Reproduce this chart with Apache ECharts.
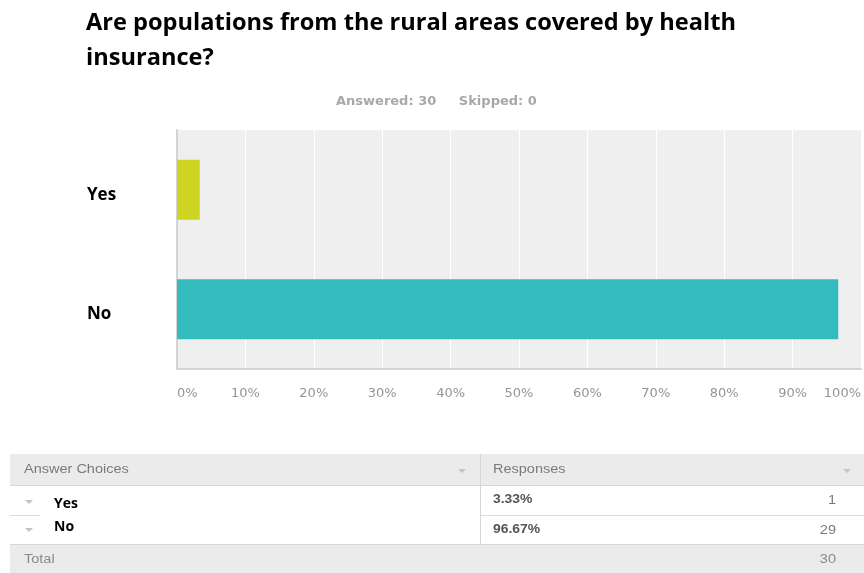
<!DOCTYPE html>
<html>
<head>
<meta charset="utf-8">
<script src="https://cdn.jsdelivr.net/npm/echarts@6/dist/echarts.min.js"></script>
<style>
  html, body { margin: 0; padding: 0; background: #fff; }
  #chart { width: 864px; height: 573px; }
</style>
</head>
<body>
<div id="chart"></div>
<script>
// Survey question and answer data
const questionTitle = 'Are populations from the rural areas covered by health\ninsurance?';
const answered = 30;
const skipped = 0;
const categories = ['Yes', 'No'];
const percents = [3.33, 96.67];
const counts = [1, 29];
const barColors = ['#cdd422', '#33bbbe'];
const xTicks = [0, 10, 20, 30, 40, 50, 60, 70, 80, 90, 100];

const total = counts.reduce((a, b) => a + b, 0);

const chart = echarts.init(document.getElementById('chart'));

// Small grey "dropdown" triangle used in the results table
function tri(cx, cy) {
  return {
    type: 'polygon',
    shape: { points: [[cx - 4, cy - 2], [cx + 4, cy - 2], [cx, cy + 2]] },
    style: { fill: '#c4c4c4' },
    silent: true
  };
}

const tableFont = '"Liberation Sans", Arial, sans-serif';
const labelFont = '"Open Sans", sans-serif';
const WIDE = 1.16; // table text is set slightly wide

// table text cell helper
function cell(x, y, text, font, fill, align) {
  return {
    type: 'text', x: x, y: y, scaleX: WIDE,
    style: { text: text, font: font, fill: fill, align: align || 'left', verticalAlign: 'middle' }
  };
}

const graphics = [
  // header row
  { type: 'rect', shape: { x: 10, y: 454, width: 854, height: 32 }, style: { fill: '#ebebeb' } },
  { type: 'line', shape: { x1: 10, y1: 485.5, x2: 864, y2: 485.5 }, style: { stroke: '#d6d6d6', lineWidth: 1 } },
  cell(24, 470, 'Answer Choices', '12.5px ' + tableFont, '#7a7a7a'),
  cell(493, 470, 'Responses', '12.5px ' + tableFont, '#7a7a7a'),
  tri(462, 471), tri(847, 471),
  // column divider
  { type: 'line', shape: { x1: 480.5, y1: 454, x2: 480.5, y2: 544 }, style: { stroke: '#d6d6d6', lineWidth: 1 } },
  // row separators
  { type: 'line', shape: { x1: 10, y1: 515.5, x2: 40, y2: 515.5 }, style: { stroke: '#dcdcdc', lineWidth: 1 } },
  { type: 'line', shape: { x1: 481, y1: 515.5, x2: 864, y2: 515.5 }, style: { stroke: '#dcdcdc', lineWidth: 1 } },
  { type: 'line', shape: { x1: 10, y1: 544.5, x2: 864, y2: 544.5 }, style: { stroke: '#d6d6d6', lineWidth: 1 } },
  // total row
  { type: 'rect', shape: { x: 10, y: 545, width: 854, height: 28 }, style: { fill: '#ebebeb' } },
  cell(24, 560, 'Total', '12.5px ' + tableFont, '#8a8a8a'),
  cell(836, 560, String(total), '12.5px ' + tableFont, '#8a8a8a', 'right')
];

// answer rows
const rowY = [504, 527];
const triY = [502, 530];
const pctY = [500, 530];
categories.forEach((c, i) => {
  graphics.push(tri(29, triY[i]));
  graphics.push({ type: 'text', x: 54, y: rowY[i], style: { text: c, fill: '#000', font: 'bold 14px ' + labelFont, verticalAlign: 'middle' } });
  graphics.push(cell(493, pctY[i], percents[i].toFixed(2) + '%', 'bold 12px ' + tableFont, '#555'));
  graphics.push(cell(836, pctY[i] + 1, String(counts[i]), '12.5px ' + tableFont, '#7a7a7a', 'right'));
});

chart.setOption({
  animation: false,
  title: [
    {
      text: questionTitle,
      left: 81, top: 1,
      textStyle: { fontFamily: 'Open Sans', fontWeight: 'bold', fontSize: 23.6, color: '#000', lineHeight: 35 }
    },
    {
      text: 'Answered: ' + answered + '     Skipped: ' + skipped,
      left: 331, top: 90,
      textStyle: { fontFamily: 'DejaVu Sans', fontWeight: 'bold', fontSize: 13, color: '#a8a8a8' }
    }
  ],
  grid: {
    left: 177, right: 1, top: 130, bottom: 204,
    show: true, backgroundColor: '#efefef', borderWidth: 0
  },
  xAxis: {
    type: 'value',
    min: 0, max: 100, interval: 10,
    axisLine: { show: true, lineStyle: { color: '#d4d4d4', width: 2 } },
    axisTick: { show: false },
    splitLine: { show: true, lineStyle: { color: '#ffffff', width: 1 } },
    axisLabel: {
      formatter: v => xTicks.includes(v) ? v + '%' : '',
      color: '#959595', fontSize: 13, fontFamily: 'DejaVu Sans',
      margin: 18,
      alignMinLabel: 'left', alignMaxLabel: 'right'
    }
  },
  yAxis: {
    type: 'category',
    data: categories,
    inverse: true,
    axisLine: { show: true, lineStyle: { color: '#d4d4d4', width: 2 } },
    axisTick: { show: false },
    axisLabel: {
      color: '#000', fontSize: 17, fontWeight: 'bold', fontFamily: 'Open Sans',
      align: 'left', margin: 90, verticalAlign: 'top', lineHeight: 10
    }
  },
  series: [{
    type: 'bar',
    data: percents.map((v, i) => ({ value: v, itemStyle: { color: barColors[i] } })),
    barWidth: 60,
    silent: true
  }],
  graphic: graphics
});
</script>
</body>
</html>
